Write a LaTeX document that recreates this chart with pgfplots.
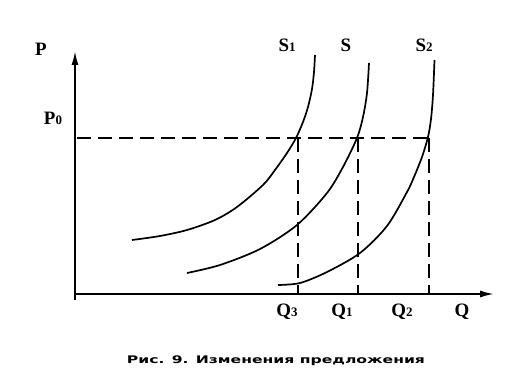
\documentclass[border=0pt]{standalone}
\usepackage{pgfplots}
\pgfplotsset{compat=1.18}
\usepackage{fontspec}
\setmainfont{Liberation Serif}
\newfontfamily\capfont{DejaVu Sans}
\usetikzlibrary{arrows.meta}
\tikzset{
  curve/.style={black, line width=1.7bp, smooth},
  dsh/.style={black, line width=1.2bp, dash pattern=on 14bp off 7bp},
  lab/.style={font=\fontsize{19}{19}\selectfont\bfseries, inner sep=0pt},
}
\newcommand{\sub}[1]{{\fontsize{13}{13}\selectfont #1}}
\begin{document}
\begin{tikzpicture}
\begin{axis}[
  scale only axis, width=528bp, height=388bp,
  xmin=0, xmax=528, ymin=0, ymax=388,
  hide axis, clip=false,
]
\addplot[draw=none] coordinates {(0,0) (528,388)};
% axes
\addplot[black, line width=1.8bp, no marks, -{Latex[length=14bp,width=7bp]}] coordinates {(75,88) (75,337)};
\addplot[black, line width=1.8bp, no marks, -{Latex[length=14bp,width=7bp]}] coordinates {(74,94) (494,94)};
% dashed guides
\addplot[dsh, no marks] coordinates {(77,250) (430,250)};
\addplot[dsh, no marks] coordinates {(298,250) (298,94)};
\addplot[dsh, no marks] coordinates {(358,250) (358,94)};
\addplot[dsh, no marks] coordinates {(429,250) (429,94)};
% supply curves
\addplot[curve, no marks] coordinates {(132,148) (160,152) (187,158) (215,168) (237,181) (263,203) (275,218) (287,235) (296,250) (303,266) (308,281) (312,299) (314,316) (315,333)};
\addplot[curve, no marks] coordinates {(187,115) (220,123) (260,139) (297,163) (327,195) (343,221) (357,250) (363,271) (367,295) (369,325)};
\addplot[curve, no marks] coordinates {(278,103) (300,105) (327,116) (360,135) (387,162) (407,196) (414,211) (422,231) (428,251) (431,269) (433,293) (434.5,328)};
% labels
\node[lab] at (axis cs:41,339) {P};
\node[lab] at (axis cs:53,270) {P\sub{0}};
\node[lab] at (axis cs:287,343) {S\sub{1}};
\node[lab] at (axis cs:346,343) {S};
\node[lab] at (axis cs:424,343) {S\sub{2}};
\node[lab] at (axis cs:287,76) {Q\sub{3}};
\node[lab] at (axis cs:342,76) {Q\sub{1}};
\node[lab] at (axis cs:402,76) {Q\sub{2}};
\node[lab] at (axis cs:462,76) {Q};
\node[inner sep=0pt] at (axis cs:276,27) {\resizebox{298bp}{\height}{\capfont\bfseries\fontsize{10.5}{10.5}\selectfont Рис. 9. Изменения предложения}};
\end{axis}
\end{tikzpicture}
\end{document}
